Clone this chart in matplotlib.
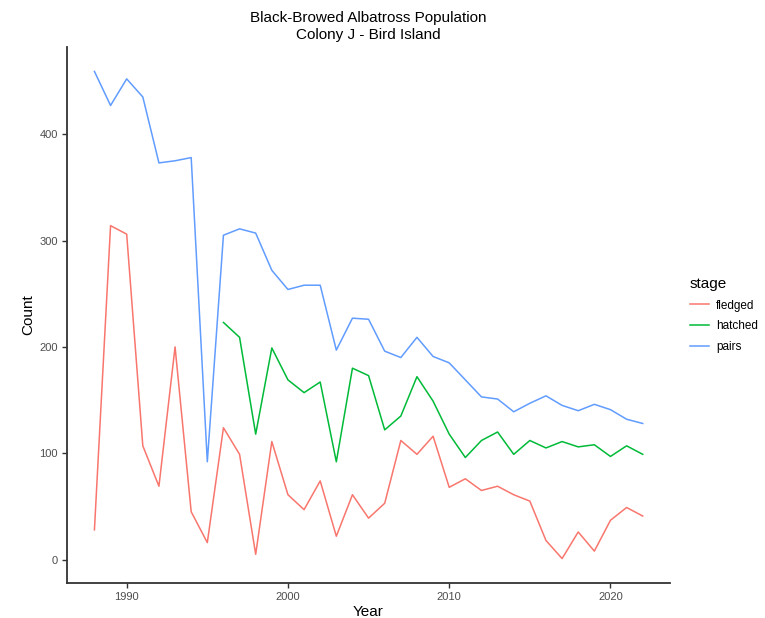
import numpy as np
import matplotlib.pyplot as plt

plt.rcParams['font.family'] = ['Liberation Sans', 'DejaVu Sans']

years = list(range(1988, 2023))

pairs = [459, 427, 452, 435, 373, 375, 378, 92, 305, 311, 307, 272, 254, 258,
         258, 197, 227, 226, 196, 190, 209, 191, 185, 169, 153, 151, 139, 147,
         154, 145, 140, 146, 141, 132, 128]

hatched_years = list(range(1996, 2023))
hatched = [223, 209, 118, 199, 169, 157, 167, 92, 180, 173, 122, 135, 172, 149,
           118, 96, 112, 120, 99, 112, 105, 111, 106, 108, 97, 107, 99]

fledged = [28, 314, 306, 107, 69, 200, 45, 16, 124, 99, 5, 111, 61, 47,
           74, 22, 61, 39, 53, 112, 99, 116, 68, 76, 65, 69, 61, 55,
           18, 1, 26, 8, 37, 49, 41]

colors = {'fledged': '#F8766D', 'hatched': '#00BA38', 'pairs': '#619CFF'}

fig = plt.figure(figsize=(7.65, 6.18), dpi=100)
ax = fig.add_axes([0.0876, 0.0566, 0.7884, 0.8674])

lw = 1.1
ax.plot(years, fledged, color=colors['fledged'], lw=lw, label='fledged')
ax.plot(hatched_years, hatched, color=colors['hatched'], lw=lw, label='hatched')
ax.plot(years, pairs, color=colors['pairs'], lw=lw, label='pairs')

ax.set_xlim(1986.3, 2023.7)
ax.set_ylim(-22, 482)
ax.set_xticks([1990, 2000, 2010, 2020])
ax.set_yticks([0, 100, 200, 300, 400])

for s in ['top', 'right']:
    ax.spines[s].set_visible(False)
for s in ['left', 'bottom']:
    ax.spines[s].set_linewidth(1.3)
    ax.spines[s].set_color('#333333')
ax.tick_params(axis='both', length=3.5, width=1.0, color='#333333',
               labelsize=8, labelcolor='#4d4d4d', pad=3)

ax.set_xlabel('Year', fontsize=11, labelpad=2)
ax.set_ylabel('Count', fontsize=11, labelpad=3)
ax.set_title('Black-Browed Albatross Population\nColony J - Bird Island',
             fontsize=11, linespacing=1.2, pad=6)

leg = ax.legend(loc='center left', bbox_to_anchor=(1.015, 0.5), frameon=False,
                title='stage', fontsize=8.5, title_fontsize=11,
                handlelength=1.6, handletextpad=0.6, labelspacing=0.75)
leg._legend_box.align = 'left'

fig.savefig('out.png', dpi=100)
